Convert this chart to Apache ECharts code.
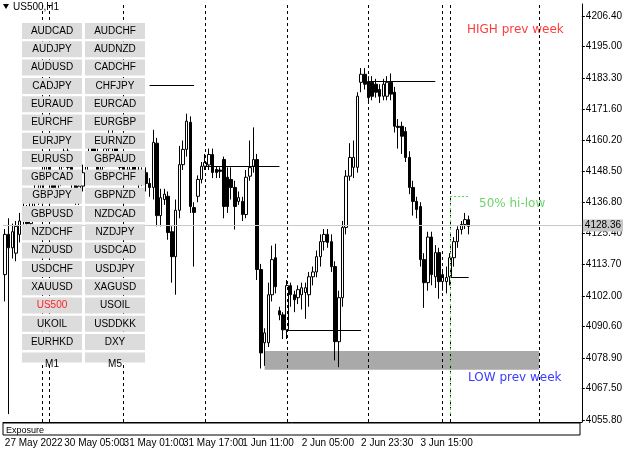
<!DOCTYPE html>
<html>
<head>
<meta charset="utf-8">
<script src="https://cdn.jsdelivr.net/npm/echarts@6/dist/echarts.min.js"></script>
<style>
html, body { margin: 0; padding: 0; background: #fff; }
#chartmain { width: 625px; height: 454px; }
</style>
</head>
<body>
<div id="chartmain"></div>
<script>
// time labels, one every 16 bars
var timeLabels = ['27 May 2022', '30 May 05:00', '31 May 01:00', '31 May 17:00', '1 Jun 11:00', '2 Jun 05:00', '2 Jun 23:30', '3 Jun 15:00'];
var priceTicks = [4055.80, 4067.50, 4078.90, 4090.60, 4102.00, 4113.70, 4125.40, 4136.80, 4148.50, 4160.20, 4171.60, 4183.30, 4195.00, 4206.40];

// [open, close, low, high]
var candles = [
	[4110,4125,4100,4127],[4125,4120,4058,4131],[4120,4126,4116,4129],[4118,4128,4115,4130],[4125,4130,4122,4133],
	[4130,4134,4127,4137],[4134,4129,4126,4136],[4129,4137,4127,4139],[4137,4142,4135,4145],[4142,4139,4136,4144],
	[4139,4146,4137,4148],[4146,4151,4144,4154],[4151,4147,4143,4153],[4147,4141,4138,4149],[4141,4145,4139,4148],
	[4145,4152,4143,4155],[4152,4156,4150,4159],[4156,4150,4147,4158],[4150,4144,4141,4152],[4144,4139,4136,4146],
	[4139,4143,4136,4145],[4143,4148,4141,4151],[4148,4153,4146,4156],[4153,4158,4151,4161],[4158,4155,4152,4160],
	[4155,4149,4146,4157],[4149,4152,4147,4154],[4152,4157,4150,4160],[4157,4162,4155,4165],[4162,4159,4156,4164],
	[4159,4154,4151,4161],[4154,4150,4147,4156],[4150,4146,4143,4152],[4146,4149,4144,4151],[4149,4153,4147,4155],
	[4153,4149,4146,4155],[4149,4145,4142,4151],[4145,4148,4143,4150],[4148,4144,4141,4150],[4144,4142.5,4139,4146],
	[4142.5,4159.3,4138,4164],[4159,4132,4128,4161],[4132,4138.7,4128,4142],[4138,4140,4136,4142],[4139.2,4125.7,4123,4141],
	[4126,4116.7,4107,4128],[4116.7,4134,4102.5,4138],[4134,4151,4131,4158],[4151,4156.7,4149,4160],[4156.7,4167.2,4154,4170],
	[4166.8,4135.4,4133,4169],[4135,4133.2,4113,4137],[4139.2,4145.5,4137,4147],[4145.5,4150.4,4144,4152],[4150.4,4151.8,4149,4155],
	[4150.9,4154.8,4149,4157],[4154.8,4148.1,4146,4157],[4149.2,4148.1,4146,4150.5],[4149,4148.5,4146,4150],[4152.9,4135.4,4131,4154],
	[4146.3,4135.4,4133,4150],[4145.5,4142.5,4138,4150],[4142.5,4135.4,4126.8,4145],[4137.3,4138.7,4136,4141],[4137.3,4132.4,4130,4139],
	[4132.4,4146.3,4131,4149],[4146.7,4149.9,4145,4160],[4150.4,4152.9,4148,4164.9],[4152.9,4111.9,4108,4155],[4111.9,4080.8,4075,4114],
	[4084.6,4088.3,4076,4090],[4084.6,4102.5,4083,4107],[4102.5,4115.6,4100,4120.8],[4116.3,4105.5,4103,4121.5],[4096.5,4095,4093,4098],
	[4095,4089.4,4086,4096],[4089.4,4105.9,4086,4108],[4105.9,4102.5,4098,4107],[4102.5,4100.6,4096,4104],[4101.4,4104.4,4099,4106],
	[4102.5,4105.1,4097,4107],[4103.3,4105.1,4093.5,4107],[4102.5,4109.2,4098,4111],[4109.2,4111,4106,4113],[4111,4116.7,4109,4119],
	[4116.7,4122.3,4113,4125],[4122.3,4125,4119,4127],[4125,4122,4120,4127],[4122.3,4113,4111,4125],[4113,4085,4078,4115],
	[4085,4101.4,4075.5,4104],[4101.4,4127.6,4098,4130],[4127.6,4146.7,4125,4149],[4146.7,4153.7,4145,4159],[4150,4153.7,4146,4160],
	[4150,4176.5,4148,4178],[4181.7,4184.7,4178,4187],[4184.7,4181,4179,4187],[4182,4176,4174,4184],[4181.7,4176.5,4175,4184],
	[4181,4178,4176,4183],[4179,4176.5,4174,4181],[4176.5,4181,4175,4183],[4176.5,4181.7,4175,4184],[4181.7,4177.3,4175,4185],
	[4178,4165.3,4163,4180],[4165.3,4164.9,4157,4168],[4165.3,4161.6,4155,4167],[4163.4,4153.7,4152,4165],[4153.7,4142.5,4140,4156],
	[4142.5,4137.3,4132,4145],[4137.3,4134.3,4131,4139],[4135.4,4115.6,4113,4137],[4115.6,4107,4097.6,4118],[4107,4124,4104,4126],
	[4124,4110,4106,4126],[4109.2,4118.2,4105,4121],[4118.2,4107.4,4101,4120],[4107.4,4110,4104,4112],[4107.4,4108.9,4103,4113],
	[4109.2,4116.3,4106,4118],[4116.3,4122.3,4113,4124],[4122.3,4126.8,4120,4128],[4126.8,4128.7,4125,4130],[4128.7,4130.5,4127,4133],
	[4130.5,4128,4125,4132]
];
var totalBars = 156;
var sessionLines = [9.8, 11.7, 31.9, 53.6, 75.6, 97.6, 118, 119.6, 143.7];
// [fromIndex, toIndex, price]
var levels = [[39, 51, 4180.6], [98, 116, 4182.1], [53.6, 74, 4150.3], [76, 96, 4089.4], [120, 125, 4109.2]];
var lastPrice = 4128.36;
var lowZone = [70, 143.5, 4074.5, 4081.5];
var halfLevel = [120.4, 125, 4139.1];
var buttons = ['AUDCAD','AUDCHF','AUDJPY','AUDNZD','AUDUSD','CADCHF','CADJPY','CHFJPY','EURAUD','EURCAD',
	'EURCHF','EURGBP','EURJPY','EURNZD','EURUSD','GBPAUD','GBPCAD','GBPCHF','GBPJPY','GBPNZD',
	'GBPUSD','NZDCAD','NZDCHF','NZDJPY','NZDUSD','USDCAD','USDCHF','USDJPY','XAUUSD','XAGUSD',
	'US500','USOIL','UKOIL','USDDKK','EURHKD','DXY','M1','M5'];

var cats = [];
for (var i = 0; i < totalBars; i++) {
	cats.push(i % 16 == 0 && timeLabels[i / 16] ? timeLabels[i / 16] : '');
}

var lineData = [];
sessionLines.forEach(function(x) {
	lineData.push([{coord: [x, 4055.05]}, {coord: [x, 4210.9]}]);
});
var levelData = levels.map(function(l) {
	return [{coord: [l[0], l[2]], lineStyle: {color: '#000', type: 'solid', width: 1}}, {coord: [l[1], l[2]]}];
});
levelData.push([{coord: [halfLevel[0], 4058], lineStyle: {color: '#4fcf4f', type: [2, 2], width: 1}}, {coord: [halfLevel[0], halfLevel[2]]}]);
levelData.push([{coord: [halfLevel[0], halfLevel[2]], lineStyle: {color: '#4fcf4f', type: [2, 2], width: 1}}, {coord: [halfLevel[1], halfLevel[2]]}]);

var graphics = [
	{type: 'polygon', shape: {points: [[3, 4], [9, 4], [6, 9]]}, style: {fill: '#000'}},
	{type: 'text', left: 13, top: 2, style: {text: 'US500,H1', font: '10px "Liberation Sans", sans-serif', fill: '#000'}},
	{type: 'text', left: 467, top: 24, style: {text: 'HIGH prev week', font: '12px "DejaVu Sans", sans-serif', fill: '#ff3b3b'}},
	{type: 'text', left: 479, top: 198, style: {text: '50% hi-low', font: '12px "DejaVu Sans", sans-serif', fill: '#6bd46b'}},
	{type: 'text', left: 468, top: 372, style: {text: 'LOW prev week', font: '12px "DejaVu Sans", sans-serif', fill: '#3b3bff'}},
	{type: 'rect', z: 100, shape: {x: 3, y: 423, width: 577, height: 12}, style: {fill: '#fff', stroke: '#000', lineWidth: 1}},
	{type: 'text', z: 101, left: 6, top: 426, style: {text: 'Exposure', font: '9px "Liberation Sans", sans-serif', fill: '#000'}}
];
buttons.forEach(function(b, k) {
	var col = k % 2, row = Math.floor(k / 2);
	var x = col == 0 ? 22 : 85, y = 23 + row * 18.3;
	var h = row == 18 ? 10 : 16;
	graphics.push({type: 'rect', z: 100, shape: {x: x, y: y, width: 60, height: h}, style: {fill: '#dcdcdc'}});
	graphics.push({type: 'text', z: 101, x: x + 30, y: y + (row == 18 ? 12 : 8), style: {text: b, font: '10px "Liberation Sans", sans-serif',
		fill: b == 'US500' ? '#ff2020' : '#000', align: 'center', verticalAlign: 'middle'}});
});

var option = {
	animation: false,
	grid: {left: 3, right: 42, top: 4, bottom: 32},
	xAxis: {
		type: 'category',
		data: cats,
		boundaryGap: true,
		axisLine: {lineStyle: {color: '#000'}},
		axisTick: {show: false},
		axisLabel: {interval: 0, margin: 16, align: 'left', color: '#000', fontSize: 10, fontFamily: '"Liberation Sans", sans-serif'},
		splitLine: {show: false}
	},
	yAxis: {
		type: 'value',
		position: 'right',
		min: 4055.05,
		max: 4210.9,
		axisLine: {show: true, lineStyle: {color: '#000'}},
		axisTick: {show: true, length: 3, customValues: priceTicks, lineStyle: {color: '#000'}},
		axisLabel: {customValues: priceTicks, color: '#000', fontSize: 10, margin: 4, fontFamily: '"Liberation Sans", sans-serif',
			formatter: function(v) { return v.toFixed(2); }},
		splitLine: {show: false}
	},
	series: [{
		type: 'candlestick',
		data: candles,
		barWidth: 3,
		itemStyle: {color: '#fff', color0: '#000', borderColor: '#000', borderColor0: '#000', borderWidth: 1},
		markArea: {
			silent: true,
			itemStyle: {color: '#a9a9a9'},
			data: [[{coord: [lowZone[0], lowZone[3]]}, {coord: [lowZone[1], lowZone[2]]}]]
		},
		markLine: {
			silent: true,
			symbol: 'none',
			lineStyle: {color: '#000', type: [3, 3], width: 1},
			label: {show: false},
			data: lineData.concat(levelData).concat([
				{yAxis: lastPrice, lineStyle: {color: '#c8c8c8', type: 'solid', width: 1},
					label: {show: true, position: 'end', formatter: '4128.36', backgroundColor: '#c8c8c8', color: '#000', fontSize: 10, padding: [1, 2], distance: 1}}
			])
		}
	}],
	graphic: graphics
};

var myChart = echarts.init(document.getElementById('chartmain'));
myChart.setOption(option);
</script>
</body>
</html>
